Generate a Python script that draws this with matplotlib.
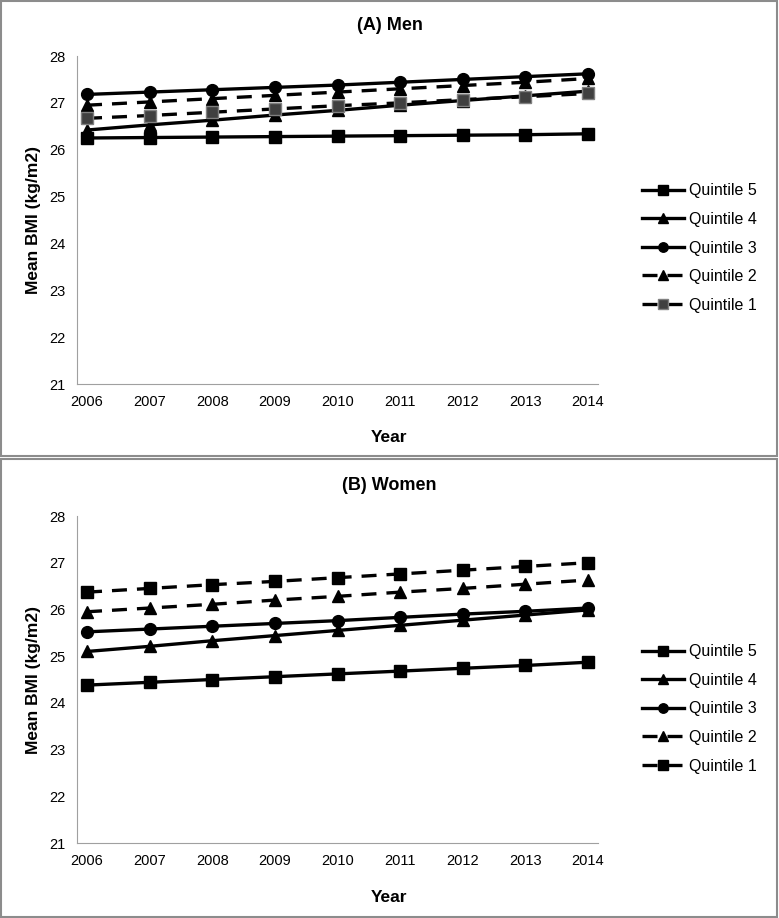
import matplotlib.pyplot as plt
from matplotlib.patches import Rectangle

plt.rcParams['font.family'] = ['Liberation Sans', 'DejaVu Sans']

years = [2006, 2007, 2008, 2009, 2010, 2011, 2012, 2013, 2014]
labels = ["Quintile 5", "Quintile 4", "Quintile 3", "Quintile 2", "Quintile 1"]

# Men
men_q5 = [26.25, 26.26, 26.27, 26.28, 26.29, 26.30, 26.31, 26.32, 26.34]
men_q4 = [26.42, 26.53, 26.63, 26.74, 26.84, 26.95, 27.05, 27.15, 27.25]
men_q3 = [27.18, 27.23, 27.28, 27.33, 27.38, 27.44, 27.50, 27.56, 27.62]
men_q2 = [26.95, 27.02, 27.09, 27.16, 27.23, 27.30, 27.37, 27.44, 27.52]
men_q1 = [26.67, 26.73, 26.80, 26.87, 26.94, 27.00, 27.07, 27.13, 27.20]

# Women
women_q5 = [24.38, 24.44, 24.50, 24.56, 24.62, 24.68, 24.74, 24.80, 24.87]
women_q4 = [25.10, 25.21, 25.33, 25.44, 25.55, 25.66, 25.77, 25.88, 25.99]
women_q3 = [25.52, 25.58, 25.64, 25.70, 25.76, 25.83, 25.90, 25.96, 26.03]
women_q2 = [25.95, 26.03, 26.11, 26.20, 26.28, 26.37, 26.45, 26.54, 26.63]
women_q1 = [26.37, 26.45, 26.53, 26.60, 26.68, 26.76, 26.84, 26.92, 27.00]

W, H = 779, 918
fig = plt.figure(figsize=(W / 100, H / 100), dpi=100)

# panel frames
for y0, y1 in [(1, 456), (459, 917)]:
    fig.patches.append(Rectangle((1 / W, 1 - y1 / H), (W - 3) / W, (y1 - y0) / H,
                                 transform=fig.transFigure, fill=False,
                                 edgecolor='#8c8c8c', linewidth=1.5))

dash = (0, (4.5, 3))


def panel(top, bottom, title, series, q1_style, title_y, year_y, leg_y):
    ax = fig.add_axes([77 / W, 1 - bottom / H, (598 - 77) / W, (bottom - top) / H])
    styles = [
        dict(marker='s', linestyle='-', color='black', mfc='black', mec='black'),
        dict(marker='^', linestyle='-', color='black', mfc='black', mec='black'),
        dict(marker='o', linestyle='-', color='black', mfc='black', mec='black'),
        dict(marker='^', linestyle=dash, color='black', mfc='black', mec='black'),
        q1_style,
    ]
    for vals, st, lab in zip(series, styles, labels):
        ax.plot(years, vals, linewidth=2.4, markersize=8.5, label=lab, **st)
    ax.set_xlim(2005.84, 2014.16)
    ax.set_ylim(21, 28)
    ax.set_xticks(years)
    ax.set_yticks(range(21, 29))
    ax.tick_params(length=0, labelsize=10.5, pad=8)
    for s in ['top', 'right']:
        ax.spines[s].set_visible(False)
    for s in ['left', 'bottom']:
        ax.spines[s].set_color('#a0a0a0')
    ax.set_ylabel("Mean BMI (kg/m2)", fontsize=12.5, fontweight='bold', labelpad=6)
    fig.text(0.5, 1 - title_y / H, title, ha='center', va='center',
             fontsize=13, fontweight='bold')
    fig.text(0.5, 1 - year_y / H, "Year", ha='center', va='center',
             fontsize=12.5, fontweight='bold')
    ax.legend(loc='center left', bbox_to_anchor=(628 / W, 1 - leg_y / H),
              bbox_transform=fig.transFigure, frameon=False, fontsize=11.5,
              handlelength=2.6, labelspacing=0.85, handletextpad=0.3,
              markerscale=0.8)
    return ax


panel(56, 384, "(A) Men", [men_q5, men_q4, men_q3, men_q2, men_q1],
      dict(marker='s', linestyle=dash, color='black', mfc='#404040', mec='#808080'),
      25, 437, 248)
panel(516, 843, "(B) Women", [women_q5, women_q4, women_q3, women_q2, women_q1],
      dict(marker='s', linestyle=dash, color='black', mfc='black', mec='black'),
      485, 898, 709)

fig.savefig("out.png", dpi=100)
